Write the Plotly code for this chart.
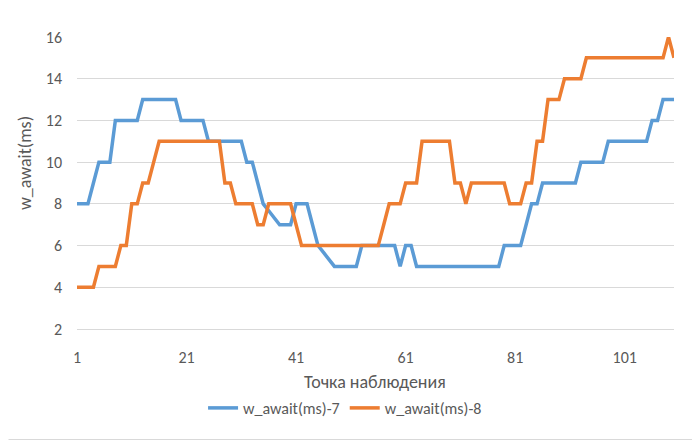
import plotly.graph_objects as go

# Observation points
points = list(range(1, 111))

# w_await(ms)-7
series_7 = [
    8, 8, 8, 9, 10, 10, 10, 12, 12, 12,
    12, 12, 13, 13, 13, 13, 13, 13, 13, 12,
    12, 12, 12, 12, 11, 11, 11, 11, 11, 11,
    11, 10, 10, 9, 8, 7.67, 7.33, 7, 7, 7,
    8, 8, 8, 7, 6, 5.67, 5.33, 5, 5, 5,
    5, 5, 6, 6, 6, 6, 6, 6, 6, 5,
    6, 6, 5, 5, 5, 5, 5, 5, 5, 5,
    5, 5, 5, 5, 5, 5, 5, 5, 6, 6,
    6, 6, 7, 8, 8, 9, 9, 9, 9, 9,
    9, 9, 10, 10, 10, 10, 10, 11, 11, 11,
    11, 11, 11, 11, 11, 12, 12, 13, 13, 13,
]

# w_await(ms)-8
series_8 = [
    4, 4, 4, 4, 5, 5, 5, 5, 6, 6,
    8, 8, 9, 9, 10, 11, 11, 11, 11, 11,
    11, 11, 11, 11, 11, 11, 11, 9, 9, 8,
    8, 8, 8, 7, 7, 8, 8, 8, 8, 8,
    7, 6, 6, 6, 6, 6, 6, 6, 6, 6,
    6, 6, 6, 6, 6, 6, 7, 8, 8, 8,
    9, 9, 9, 11, 11, 11, 11, 11, 11, 9,
    9, 8, 9, 9, 9, 9, 9, 9, 9, 8,
    8, 8, 9, 9, 11, 11, 13, 13, 13, 14,
    14, 14, 14, 15, 15, 15, 15, 15, 15, 15,
    15, 15, 15, 15, 15, 15, 15, 15, 16, 15,
]

series_names = ["w_await(ms)-7", "w_await(ms)-8"]
x_tick_vals = [1, 21, 41, 61, 81, 101]
y_tick_vals = [2, 4, 6, 8, 10, 12, 14, 16]
x_title = "Точка наблюдения"
y_title = "w_await(ms)"

FONT = "Carlito, Calibri, Lato, 'Open Sans', sans-serif"
GREY = "#595959"

fig = go.Figure()
fig.add_trace(go.Scatter(x=points, y=series_7, mode="lines", name=series_names[0],
                         line=dict(color="#5B9BD5", width=3.5)))
fig.add_trace(go.Scatter(x=points, y=series_8, mode="lines", name=series_names[1],
                         line=dict(color="#ED7D31", width=3.5)))

fig.update_layout(
    width=692, height=432,
    margin=dict(l=69, r=26, t=29, b=111),
    paper_bgcolor="white", plot_bgcolor="white",
    font=dict(family=FONT, size=16, color=GREY),
    showlegend=True,
    legend=dict(orientation="h", x=0.449, xanchor="center", y=-0.2705, yanchor="middle",
                font=dict(size=16, color=GREY), itemwidth=30),
    xaxis=dict(range=[1, 110], tickvals=x_tick_vals, showgrid=False, zeroline=False,
               showline=True, linecolor="#d9d9d9", linewidth=1, ticks="",
               ticklabelstandoff=14, tickfont=dict(size=16, color=GREY)),
    yaxis=dict(range=[2, 16], tickvals=y_tick_vals, showgrid=True, gridcolor="#d9d9d9",
               gridwidth=1, zeroline=False, showline=False, ticks="",
               ticklabelstandoff=14, tickfont=dict(size=16, color=GREY)),
    annotations=[
        dict(text=x_title, xref="paper", yref="paper", x=0.499, y=-0.1815,
             xanchor="center", yanchor="middle", showarrow=False,
             font=dict(size=18, color=GREY)),
        dict(text=y_title, xref="paper", yref="paper", x=-0.0871, y=0.5685,
             xanchor="center", yanchor="middle", showarrow=False, textangle=-90,
             font=dict(size=18, color=GREY)),
    ],
    shapes=[
        dict(type="line", xref="paper", yref="paper",
             x0=1 + 25.5/597, x1=1 + 25.5/597, y0=-110.5/292, y1=1 + 28.5/292,
             line=dict(color="#d9d9d9", width=1)),
        dict(type="line", xref="paper", yref="paper",
             x0=-68.5/597, x1=1 + 25.5/597, y0=-110.5/292, y1=-110.5/292,
             line=dict(color="#d9d9d9", width=1)),
    ],
)

fig.write_html("out.html")
